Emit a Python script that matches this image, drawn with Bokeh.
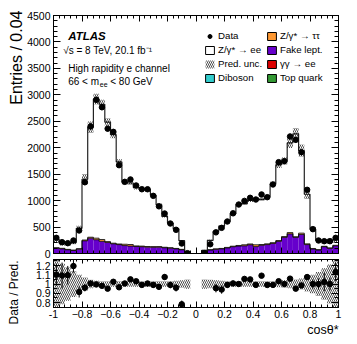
import numpy as np
from bokeh.plotting import figure
from bokeh.layouts import column
from bokeh.models import (Range1d, SingleIntervalTicker, LinearAxis, Legend, LegendItem, Title)
from bokeh.core.properties import value
from bokeh.embed import file_html
from bokeh.resources import INLINE

FONT = "Liberation Sans"

# ---------------- data (50 bins of width 0.04 in cos theta*) ----------------
bin_low = -1.0
bin_width = 0.04
n_bins = 50

data_counts = [296, 214, 195, 246, 435, 1348, 2401, 2906, 2766, 2360,
               2300, 1670, 1355, 1400, 1286, 1215, 1215, 1090, 892, 756,
               567, 448, 189, 6, 0, 0, 6, 175, 400, 485,
               605, 760, 926, 995, 1053, 1021, 1116, 1065, 1305, 1727,
               1746, 2212, 2149, 1916, 1204, 460, 246, 233, 233, 296]

pred_total = [269, 196, 178, 206, 476, 1404, 2387, 2918, 2822, 2484,
              2246, 1731, 1347, 1333, 1249, 1227, 1208, 1101, 920, 703,
              573, 467, 242, 30, 0, 0, 30, 250, 419, 516,
              611, 755, 926, 943, 1003, 1031, 1024, 1076, 1318, 1677,
              1746, 2091, 2262, 1945, 1120, 460, 246, 228, 233, 262]

ratio_err = [0.12, 0.14, 0.10, 0.07, 0.06, 0.04, 0.025, 0.02, 0.02, 0.02,
             0.02, 0.025, 0.025, 0.025, 0.025, 0.025, 0.025, 0.03, 0.03, 0.03,
             0.035, 0.04, 0.04, 0.3, 0.0, 0.0, 0.3, 0.05, 0.045, 0.045,
             0.03, 0.03, 0.025, 0.025, 0.025, 0.025, 0.025, 0.025, 0.025, 0.025,
             0.025, 0.025, 0.025, 0.025, 0.03, 0.05, 0.06, 0.10, 0.07, 0.10]

pred_unc_rel = [0.26, 0.22, 0.18, 0.14, 0.10, 0.07, 0.045, 0.035, 0.03, 0.03,
                0.03, 0.03, 0.03, 0.03, 0.03, 0.03, 0.03, 0.03, 0.03, 0.03,
                0.03, 0.035, 0.04, 0.05, 0.0, 0.0, 0.05, 0.045, 0.04, 0.035,
                0.03, 0.03, 0.03, 0.03, 0.03, 0.03, 0.03, 0.03, 0.03, 0.035,
                0.04, 0.045, 0.05, 0.06, 0.08, 0.10, 0.13, 0.17, 0.21, 0.25]

top_quark = [2, 2, 2, 2, 2, 2, 2, 2, 2, 2, 2, 2, 2, 2, 2, 2, 2, 2, 2, 2,
             2, 2, 2, 1, 0, 0, 1, 2, 2, 2, 2, 2, 2, 2, 2, 2, 2, 2, 2, 2,
             2, 2, 2, 2, 2, 2, 2, 2, 2, 2]
gamgam = [1, 1, 1, 1, 1, 1, 1, 1, 1, 1, 1, 1, 1, 1, 1, 1, 1, 1, 1, 1,
          1, 1, 1, 1, 0, 0, 1, 1, 1, 1, 1, 1, 1, 1, 1, 1, 1, 1, 1, 1,
          1, 1, 1, 1, 1, 1, 1, 1, 1, 1]
diboson = [2, 2, 2, 2, 2, 2, 2, 2, 2, 2, 2, 2, 2, 2, 2, 2, 2, 2, 2, 2,
           2, 2, 2, 1, 0, 0, 1, 2, 2, 2, 2, 2, 2, 2, 2, 2, 2, 2, 2, 2,
           2, 2, 2, 2, 2, 2, 2, 2, 2, 2]
fake_lept = [95, 83, 65, 52, 77, 235, 285, 255, 225, 205,
             178, 163, 145, 135, 127, 123, 115, 113, 115, 103,
             95, 83, 65, 33, 0, 0, 55, 60, 75, 83,
             100, 123, 135, 140, 160, 125, 150, 163, 185, 225,
             300, 365, 300, 355, 163, 80, 60, 123, 93, 140]
ztautau = [10, 10, 8, 8, 10, 15, 18, 30, 35, 15,
           12, 12, 25, 30, 12, 12, 12, 12, 10, 10,
           10, 8, 8, 4, 0, 0, 4, 8, 8, 8,
           10, 10, 12, 20, 15, 35, 15, 15, 15, 15,
           15, 25, 12, 25, 15, 10, 8, 8, 8, 10]

# ---------------- derived arrays ----------------
edges = bin_low + bin_width * np.arange(n_bins + 1)
left, right = edges[:-1], edges[1:]
centers = 0.5 * (left + right)
data_a = np.array(data_counts, float)
pred_a = np.array(pred_total, float)
rerr_a = np.array(ratio_err, float)
unc_a = np.array(pred_unc_rel, float)

C_FAKE = "#6600cc"
C_TAU = "#ff9933"
C_DIB = "#33cccc"
C_GG = "#dd0000"
C_TOP = "#339933"
NAN = [np.nan]

def style_axis(ax, labels=True, maj=6, mnr=3, standoff=3):
    ax.major_tick_in = maj
    ax.major_tick_out = 0
    ax.minor_tick_in = mnr
    ax.minor_tick_out = 0
    ax.axis_line_color = "black"
    ax.major_tick_line_color = "black"
    ax.minor_tick_line_color = "black"
    ax.axis_label_standoff = 0
    if labels:
        ax.major_label_text_font = FONT
        ax.major_label_text_font_size = "10.5px"
        ax.major_label_text_color = "black"
        ax.major_label_standoff = standoff
    else:
        ax.major_label_text_color = None
        ax.major_label_text_font_size = "1px"
        ax.major_label_standoff = 0

def spacer_label(ax, gap):
    # a blank axis label used only to widen the axis panel
    ax.axis_label = " "
    ax.axis_label_text_font_size = "1px"
    ax.axis_label_standoff = gap

x_range = Range1d(-1, 1)
xt = dict(interval=0.2, num_minor_ticks=5)

# ---------------- main panel ----------------
p = figure(width=349, height=259, x_range=x_range, y_range=Range1d(0, 4500),
           x_axis_location=None, y_axis_location=None, output_backend="svg",
           toolbar_location=None, min_border_left=53, min_border_right=11,
           min_border_top=15, min_border_bottom=6)
p.grid.visible = False
p.outline_line_color = "black"

ax_l = LinearAxis(ticker=SingleIntervalTicker(interval=500, num_minor_ticks=5))
style_axis(ax_l, True, 7, 4)
p.add_layout(ax_l, "left")
ax_r = LinearAxis(ticker=SingleIntervalTicker(interval=500, num_minor_ticks=5))
style_axis(ax_r, False, 7, 4)
p.add_layout(ax_r, "right")
ax_b = LinearAxis(ticker=SingleIntervalTicker(**xt))
style_axis(ax_b, False, 6, 3)
p.add_layout(ax_b, "below")
ax_t = LinearAxis(ticker=SingleIntervalTicker(**xt))
style_axis(ax_t, False, 6, 3)
p.add_layout(ax_t, "above")

p.add_layout(Title(text="Entries / 0.04", align="right", text_font=FONT, text_font_size="16px",
                   text_font_style="normal", text_color="black", standoff=0, offset=-5), "left")

# stacked backgrounds
cum = np.zeros(n_bins)
for comp, col in [(top_quark, C_TOP), (gamgam, C_GG), (diboson, C_DIB),
                  (fake_lept, C_FAKE), (ztautau, C_TAU)]:
    c = np.array(comp, float)
    p.quad(left=left, right=right, bottom=cum, top=cum + c, fill_color=col, line_color=None)
    cum = cum + c
p.quad(left=left, right=right, bottom=cum, top=pred_a, fill_color="white", line_color=None)

lvl = np.zeros(n_bins)
for comp in [top_quark, gamgam, diboson, fake_lept, ztautau]:
    lvl = lvl + np.array(comp, float)
    if comp is fake_lept or comp is ztautau:
        p.step(x=edges, y=np.append(lvl, lvl[-1]), mode="after", line_color="black", line_width=0.8)
p.step(x=edges, y=np.append(pred_a, pred_a[-1]), mode="after", line_color="#222222", line_width=1.2)

m = pred_a > 0
p.quad(left=left[m], right=right[m], bottom=(pred_a * (1 - unc_a))[m], top=(pred_a * (1 + unc_a))[m],
       fill_alpha=0, line_color=None, hatch_pattern="\\", hatch_color="black",
       hatch_scale=4, hatch_weight=0.7)

md = data_a > 0
derr = rerr_a * pred_a
p.segment(x0=centers[md], x1=centers[md], y0=(data_a - derr)[md], y1=(data_a + derr)[md],
          line_color="black", line_width=1)
p.scatter(x=centers[md], y=data_a[md], marker="circle", size=5.5, fill_color="black",
          line_color="black")

# legend-only renderers (NaN coordinates: nothing drawn in the frame)
lg_dash = p.scatter(x=NAN, y=NAN, marker="dash", angle=np.pi / 2, size=10,
                    line_color="black", line_width=1.2)
lg_dot = p.scatter(x=NAN, y=NAN, marker="circle", size=5.5, fill_color="black", line_color="black")
def box(col):
    return p.quad(left=NAN, right=NAN, bottom=NAN, top=NAN, fill_color=col,
                  line_color="black", line_width=1)
lg_zee = box("white")
lg_unc = p.quad(left=NAN, right=NAN, bottom=NAN, top=NAN, fill_alpha=0, line_color=None,
                hatch_pattern="\\", hatch_color="black", hatch_scale=4, hatch_weight=0.7)
lg_dib = box(C_DIB)
lg_tau = box(C_TAU)
lg_fake = box(C_FAKE)
lg_gg = box(C_GG)
lg_top = box(C_TOP)

def make_legend(items, loc):
    lg = Legend(items=items, location=loc, padding=0, margin=0, spacing=3,
                glyph_width=11, glyph_height=10, label_height=10, label_standoff=3,
                label_text_font=FONT, label_text_font_size="9.7px", label_text_color="black",
                border_line_alpha=0, background_fill_alpha=0)
    p.add_layout(lg)

make_legend([LegendItem(label="Data", renderers=[lg_dash, lg_dot]),
             LegendItem(label="Z/γ* → ee", renderers=[lg_zee]),
             LegendItem(label="Pred. unc.", renderers=[lg_unc]),
             LegendItem(label="Diboson", renderers=[lg_dib])], (151, 170))
make_legend([LegendItem(label="Z/γ* → ττ", renderers=[lg_tau]),
             LegendItem(label="Fake lept.", renderers=[lg_fake]),
             LegendItem(label="γγ → ee", renderers=[lg_gg]),
             LegendItem(label="Top quark", renderers=[lg_top])], (213, 170))

# text annotations (glyphs in data coordinates)
def lab(x, y, text, size="10px", style="normal"):
    p.text(x=[x], y=[y], text=[text], text_font=value(FONT), text_font_size=value(size),
           text_font_style=style, text_color="black", text_align="left",
           text_baseline="alphabetic")

lab(-0.897, 4110, "ATLAS", "11.5px", "bold italic")
lab(-0.932, 3840, "√s = 8 TeV, 20.1 fb⁻¹")
lab(-0.897, 3495, "High rapidity e channel")
lab(-0.897, 3255, "66 < m")
lab(-0.675, 3199, "ee", "7px")
lab(-0.602, 3255, "< 80 GeV")

# ---------------- ratio panel ----------------
q = figure(width=349, height=79, x_range=x_range, y_range=Range1d(0.746, 1.265),
           x_axis_location=None, y_axis_location=None, output_backend="svg",
           toolbar_location=None, min_border_left=53, min_border_right=11,
           min_border_top=0, min_border_bottom=31)
q.grid.visible = False
q.outline_line_color = "black"

qa_l = LinearAxis(ticker=SingleIntervalTicker(interval=0.1, num_minor_ticks=2))
style_axis(qa_l, True, 7, 4)
spacer_label(qa_l, 7)
qa_l.major_label_overrides = {1: "1"}
q.add_layout(qa_l, "left")
qa_r = LinearAxis(ticker=SingleIntervalTicker(interval=0.1, num_minor_ticks=2))
style_axis(qa_r, False, 7, 4)
q.add_layout(qa_r, "right")
qa_b = LinearAxis(ticker=SingleIntervalTicker(**xt))
style_axis(qa_b, True, 6, 3, standoff=2)
qa_b.major_label_overrides = {-1: "-1", 0: "0", 1: "1"}
q.add_layout(qa_b, "below")
qa_t = LinearAxis(ticker=SingleIntervalTicker(**xt))
style_axis(qa_t, False, 4, 2)
q.add_layout(qa_t, "above")

q.add_layout(Title(text="Data / Pred.", align="left", text_font=FONT, text_font_size="12px",
                   text_font_style="normal", text_color="black", standoff=2, offset=-17), "left")
q.add_layout(Title(text="cosθ*", align="right", text_font=FONT, text_font_size="12.5px",
                   text_font_style="normal", text_color="black", standoff=0), "below")

q.quad(left=left[m], right=right[m], bottom=(1 - unc_a)[m], top=(1 + unc_a)[m],
       fill_alpha=0, line_color=None, hatch_pattern="\\", hatch_color="black",
       hatch_scale=4, hatch_weight=0.7)
mr = (pred_a > 0) & (data_a > 0)
ratio = np.where(pred_a > 0, data_a / np.where(pred_a > 0, pred_a, 1), 0)
q.segment(x0=centers[mr], x1=centers[mr], y0=(ratio - rerr_a)[mr], y1=(ratio + rerr_a)[mr],
          line_color="black", line_width=1)
q.scatter(x=centers[mr], y=ratio[mr], marker="circle", size=5.5, fill_color="black",
          line_color="black")

layout = column(p, q, spacing=0)
open("out.html", "w").write(file_html(layout, INLINE))
